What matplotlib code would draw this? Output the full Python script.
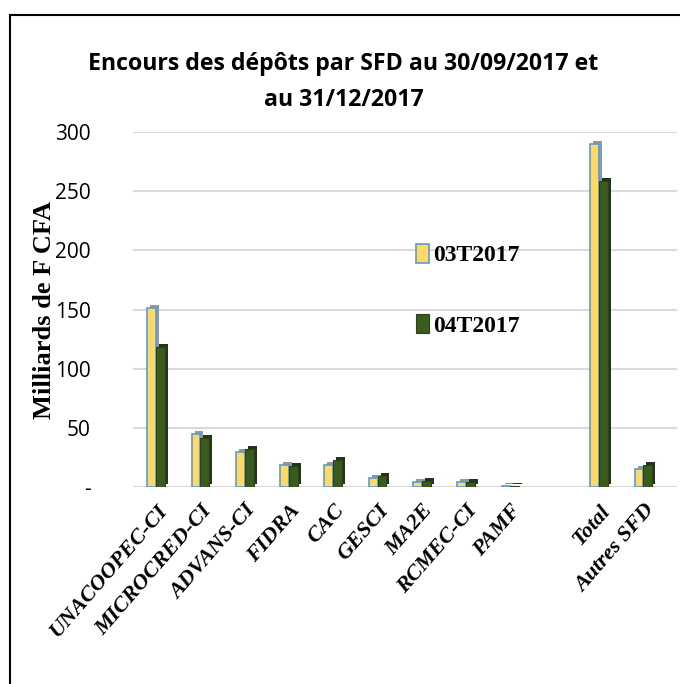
import numpy as np
import matplotlib
matplotlib.use("Agg")
import matplotlib.pyplot as plt
from matplotlib.patches import Rectangle
from matplotlib.transforms import offset_copy

# data (milliards de F CFA)
categories = ['UNACOOPEC-CI', 'MICROCRED-CI', 'ADVANS-CI', 'FIDRA', 'CAC', 'GESCI',
              'MA2E', 'RCMEC-CI', 'PAMF', '', 'Total', 'Autres SFD']
t3_2017 = [151, 45, 30, 19, 19, 8, 4, 4, 1, np.nan, 290, 15]
t4_2017 = [118, 41, 32, 18, 23, 9, 5, 4, 1, np.nan, 259, 19]
yticks = [0, 50, 100, 150, 200, 250, 300]
yticklabels = ['-', '50', '100', '150', '200', '250', '300']

sans = ['Open Sans', 'DejaVu Sans']
serif = ['Liberation Serif', 'DejaVu Serif']

yellow, yellow_side = '#FFD966', '#8C9AA6'
green, green_side = '#3B5A1E', '#24361A'
blue = '#5B9BD5'

fig = plt.figure(figsize=(6.8, 6.84), dpi=100)
ax = fig.add_axes([0.195, 0.288, 0.80, 0.519])

x = np.arange(len(categories))
w = 0.2
depth = offset_copy(ax.transData, fig=fig, x=3, y=3, units='dots')

# back faces (fake 3D depth)
ax.bar(x - w / 2, t3_2017, w, color=yellow_side, transform=depth, zorder=2)
ax.bar(x + w / 2, t4_2017, w, color=green_side, transform=depth, zorder=2)
# front faces
ax.bar(x - w / 2, t3_2017, w, color=yellow, edgecolor=blue, linewidth=1.2,
       zorder=3, label='03T2017')
ax.bar(x + w / 2, t4_2017, w, color=green, edgecolor='#2E4218', linewidth=0.8,
       zorder=3, label='04T2017')

ax.set_ylim(0, 300)
ax.set_xlim(-0.53, 11.75)
ax.set_yticks(yticks)
ax.set_yticklabels(yticklabels, family=sans, fontsize=15)
ax.tick_params(axis='y', length=0, pad=30)
ax.tick_params(axis='x', length=0, pad=10)
ax.set_xticks(x)
ax.set_xticklabels(categories, rotation=49, ha='right', rotation_mode='anchor',
                   family=serif, fontstyle='italic', fontweight='bold', fontsize=16)
ax.yaxis.grid(True, color='#D9D9D9', linewidth=1.5, zorder=0)
ax.set_axisbelow(True)
for s in ax.spines.values():
    s.set_visible(False)

ax.set_ylabel('Milliards de F CFA', family=serif, fontweight='bold', fontsize=19)
ax.yaxis.set_label_coords(-0.14, 0.5)

fig.text(0.505, 0.88, 'Encours des dépôts par SFD au 30/09/2017 et\nau 31/12/2017',
         ha='center', va='center', family=sans, fontweight='bold', fontsize=16.7,
         linespacing=1.7)

ax.legend(loc='upper left', bbox_to_anchor=(0.58, 0.675), bbox_transform=fig.transFigure,
          frameon=False, prop={'family': serif, 'size': 17, 'weight': 'bold'},
          labelspacing=2.0, handlelength=0.55, handleheight=0.9, handletextpad=0.2)

fig.patches.append(Rectangle((0.015, -0.1), 1.2, 1.078, transform=fig.transFigure,
                             fill=False, edgecolor='black', linewidth=1.5))

fig.savefig('out.png', dpi=100, facecolor='white')
